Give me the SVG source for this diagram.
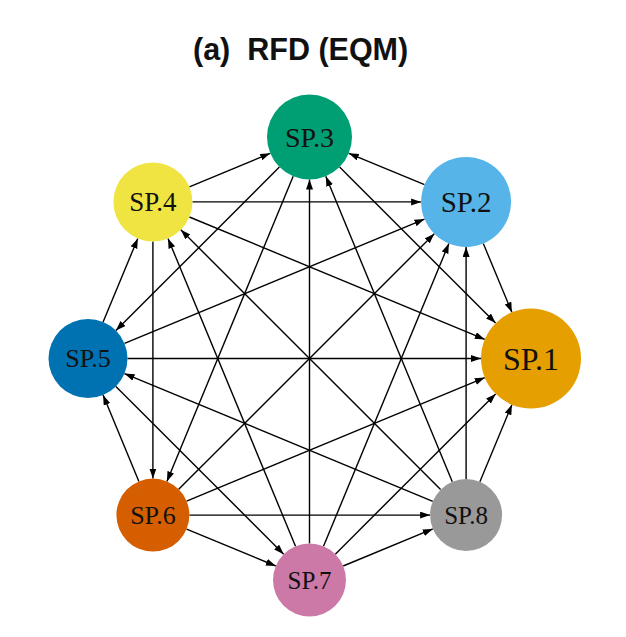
<svg xmlns="http://www.w3.org/2000/svg" width="626" height="637" viewBox="0 0 626 637">
<style>
.e{stroke:#000;stroke-width:1.4;fill:none;marker-end:url(#ah)}
.lbl{font-family:"Liberation Serif","Times New Roman",serif;fill:#111;text-anchor:middle}
.title{font-family:"Liberation Sans",Arial,sans-serif;font-weight:bold;fill:#111}
</style>
<defs>
<marker id="ah" markerUnits="userSpaceOnUse" markerWidth="11" markerHeight="8" refX="10" refY="3.5" orient="auto">
<path d="M0,0 L10,3.5 L0,7 z" fill="#000"/>
</marker>
</defs>
<rect width="626" height="637" fill="#fff"/>
<text class="title" x="193" y="60" font-size="30.5" xml:space="preserve">(a)  RFD (EQM)</text>
<g id="connectors">
<line class="e" x1="189.4" y1="186.8" x2="270.2" y2="153.3"/>
<line class="e" x1="424.5" y1="184.7" x2="348.8" y2="153.3"/>
<line class="e" x1="309.5" y1="543.5" x2="309.5" y2="179.5"/>
<line class="e" x1="452.3" y1="481.8" x2="325.8" y2="176.3"/>
<line class="e" x1="279.4" y1="167.1" x2="115.9" y2="330.6"/>
<line class="e" x1="293.2" y1="176.3" x2="166.9" y2="481.4"/>
<line class="e" x1="339.6" y1="167.1" x2="495.6" y2="323.1"/>
<line class="e" x1="192.4" y1="201.9" x2="421.1" y2="201.9"/>
<line class="e" x1="189.4" y1="217.0" x2="484.8" y2="339.4"/>
<line class="e" x1="152.9" y1="241.4" x2="152.9" y2="478.6"/>
<line class="e" x1="103.1" y1="322.0" x2="137.8" y2="238.4"/>
<line class="e" x1="295.5" y1="546.3" x2="168.0" y2="238.4"/>
<line class="e" x1="440.6" y1="489.6" x2="180.8" y2="229.8"/>
<line class="e" x1="124.5" y1="343.4" x2="424.5" y2="219.1"/>
<line class="e" x1="178.7" y1="489.3" x2="434.3" y2="233.7"/>
<line class="e" x1="323.5" y1="546.3" x2="448.9" y2="243.5"/>
<line class="e" x1="466.1" y1="479.1" x2="466.1" y2="246.9"/>
<line class="e" x1="483.3" y1="243.5" x2="511.9" y2="312.3"/>
<line class="e" x1="138.9" y1="481.4" x2="103.1" y2="395.0"/>
<line class="e" x1="186.6" y1="501.1" x2="484.8" y2="377.6"/>
<line class="e" x1="189.4" y1="515.1" x2="430.1" y2="515.1"/>
<line class="e" x1="186.6" y1="529.1" x2="275.8" y2="566.0"/>
<line class="e" x1="432.8" y1="501.3" x2="124.5" y2="373.6"/>
<line class="e" x1="479.9" y1="481.8" x2="511.9" y2="404.7"/>
<line class="e" x1="343.2" y1="566.0" x2="432.8" y2="528.9"/>
<line class="e" x1="115.9" y1="386.4" x2="283.7" y2="554.2"/>
<line class="e" x1="127.5" y1="358.5" x2="481" y2="358.5"/>
<line class="e" x1="335.3" y1="554.2" x2="495.6" y2="393.9"/>
</g>
<g id="sp1"><circle cx="531" cy="358.5" r="50" fill="#e69f00"/><text class="lbl" x="531" y="369.5" font-size="32">SP.1</text></g>
<g id="sp2"><circle cx="466.1" cy="201.9" r="45" fill="#56b4e9"/><text class="lbl" x="466.1" y="211.8" font-size="29">SP.2</text></g>
<g id="sp3"><circle cx="309.5" cy="137" r="42.5" fill="#009e73"/><text class="lbl" x="309.5" y="146.5" font-size="28">SP.3</text></g>
<g id="sp4"><circle cx="152.9" cy="201.9" r="39.5" fill="#f0e442"/><text class="lbl" x="152.9" y="211.1" font-size="27">SP.4</text></g>
<g id="sp5"><circle cx="88" cy="358.5" r="39.5" fill="#0072b2"/><text class="lbl" x="88" y="367.4" font-size="26">SP.5</text></g>
<g id="sp6"><circle cx="152.9" cy="515.1" r="36.5" fill="#d55e00"/><text class="lbl" x="152.9" y="524" font-size="26">SP.6</text></g>
<g id="sp7"><circle cx="309.5" cy="580" r="36.5" fill="#cc79a7"/><text class="lbl" x="309.5" y="588.6" font-size="25">SP.7</text></g>
<g id="sp8"><circle cx="466.1" cy="515.1" r="36" fill="#999999"/><text class="lbl" x="466.1" y="523.7" font-size="25">SP.8</text></g>
</svg>
